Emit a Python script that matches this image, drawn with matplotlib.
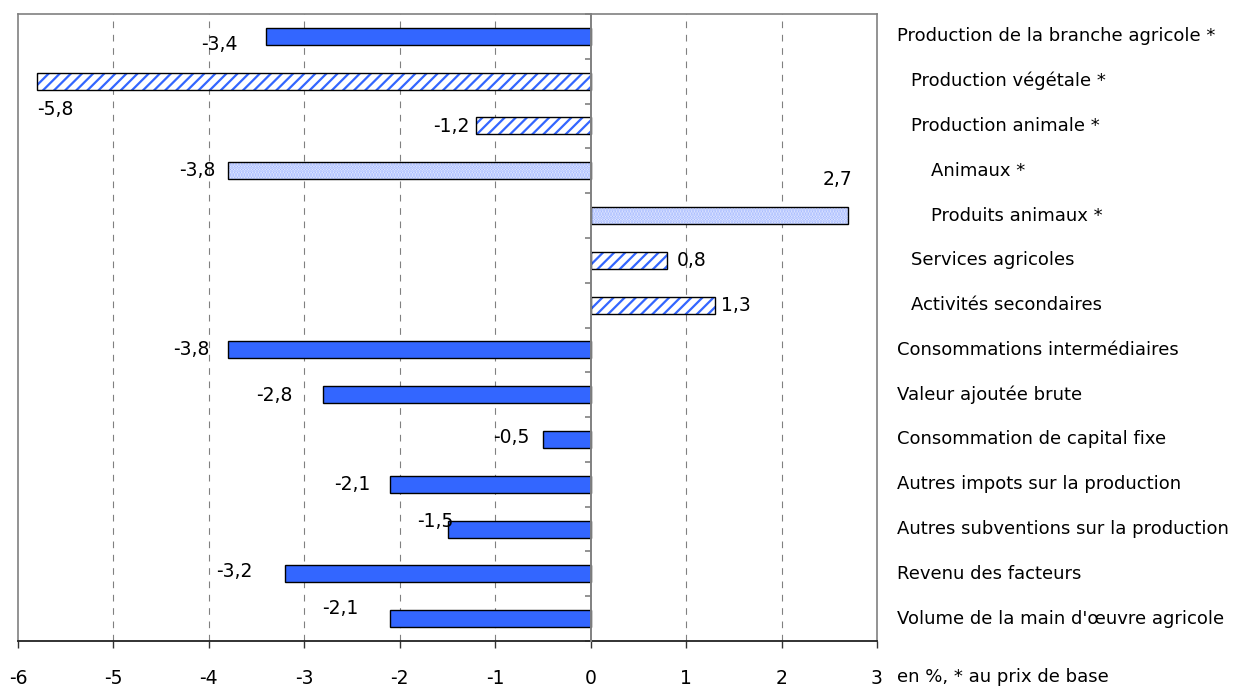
import matplotlib
matplotlib.use("Agg")
import matplotlib.pyplot as plt
import matplotlib.transforms as mtransforms
import numpy as np

plt.rcParams['font.family'] = ['DejaVu Sans']
plt.rcParams['hatch.linewidth'] = 1.6

# Categories (top to bottom), indentation level and bar style
categories = [
    "Production de la branche agricole *",
    "Production végétale *",
    "Production animale *",
    "Animaux *",
    "Produits animaux *",
    "Services agricoles",
    "Activités secondaires",
    "Consommations intermédiaires",
    "Valeur ajoutée brute",
    "Consommation de capital fixe",
    "Autres impots sur la production",
    "Autres subventions sur la production",
    "Revenu des facteurs",
    "Volume de la main d'œuvre agricole",
]
levels = [0, 1, 1, 2, 2, 1, 1, 0, 0, 0, 0, 0, 0, 0]
styles = ["solid", "hatch", "hatch", "dots", "dots", "hatch", "hatch",
          "solid", "solid", "solid", "solid", "solid", "solid", "solid"]
values = [-3.4, -5.8, -1.2, -3.8, 2.7, 0.8, 1.3, -3.8, -2.8, -0.5, -2.1, -1.5, -3.2, -2.1]

x_ticks = [-6, -5, -4, -3, -2, -1, 0, 1, 2, 3]
x_note = "en %, * au prix de base"

# value-label offsets from the bar tip, in pixels (dx right, dy up)
label_offsets = [(-47, -8), (18, -28), (-25, -1), (-31, 0), (-11, 36), (25, 0), (21, 0),
                 (-37, 0), (-49, -1), (-32, 2), (-38, 0), (-12, 8), (-51, 2), (-50, 10)]

W, H = 1237, 686
fig = plt.figure(figsize=(W / 100, H / 100), dpi=100)
ax = fig.add_axes([18 / W, 1 - 641 / H, (877 - 18) / W, (641 - 14) / H])

n = len(categories)
y = np.arange(n)
ax.set_xlim(x_ticks[0], x_ticks[-1])
ax.set_ylim(n - 0.5, -0.5)

blue = "#3366ff"
grey = "#808080"

# dashed vertical gridlines
for t in x_ticks[1:-1]:
    if t != 0:
        ax.axvline(t, color=grey, lw=0.8, ls=(0, (6, 6)), zorder=0)

bar_h = 0.38
for yi, v, st in zip(y, values, styles):
    if st == "solid":
        ax.barh(yi, v, height=bar_h, color=blue, edgecolor="black", lw=1.0, zorder=3)
    elif st == "hatch":
        ax.barh(yi, v, height=bar_h, facecolor="white", edgecolor=blue, hatch="///",
                lw=0, zorder=3)
        ax.barh(yi, v, height=bar_h, fill=False, edgecolor="black", lw=1.0, zorder=4)
    else:
        ax.barh(yi, v, height=bar_h, facecolor="#f2f5ff", edgecolor="#9db3ff",
                hatch="......", lw=0, zorder=3)
        ax.barh(yi, v, height=bar_h, fill=False, edgecolor="black", lw=1.0, zorder=4)

# value labels
for yi, v, (dx, dy) in zip(y, values, label_offsets):
    ax.annotate(f"{v:.1f}".replace(".", ","), xy=(v, yi), xytext=(dx, dy),
                textcoords="offset pixels", ha="center", va="center",
                fontsize=13.5, zorder=5)

# frame: grey left/top/right, black bottom axis
for side in ("top", "right"):
    ax.spines[side].set_color(grey)
    ax.spines[side].set_linewidth(1.2)
ax.spines["bottom"].set_color("#222222")
ax.spines["bottom"].set_linewidth(1.3)
ax.plot([0, 0], [0, 1], transform=ax.transAxes, color=grey, lw=1.2, clip_on=False, zorder=2)

# vertical axis at zero with ticks at category boundaries
ax.spines["left"].set_position(("data", 0))
ax.spines["left"].set_color(grey)
ax.spines["left"].set_linewidth(1.4)
ax.spines["left"].set_zorder(6)
ax.set_yticks(np.arange(n + 1) - 0.5)
ax.tick_params(axis="y", direction="out", length=4.5, width=1.2, color=grey,
               labelleft=False)

ax.set_xticks(x_ticks)
ax.set_xticklabels([str(t) for t in x_ticks])
ax.tick_params(axis="x", direction="out", length=5, width=1, color="#333333",
               pad=15, labelsize=13.5)

# category labels to the right of the plot
trans = mtransforms.blended_transform_factory(fig.transFigure, ax.transData)
indent = [897, 911, 931]
for yi, name, lv in zip(y, categories, levels):
    ax.text(indent[lv] / W, yi, name, transform=trans, ha="left", va="center",
            fontsize=13, clip_on=False)

fig.text(897 / W, 1 - 677 / H, x_note, ha="left", va="center", fontsize=13)

fig.savefig("out.png", dpi=100)
